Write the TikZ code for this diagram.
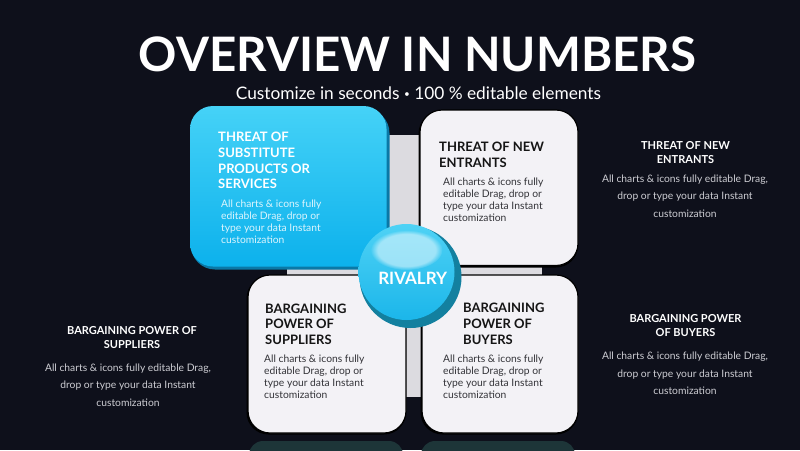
\documentclass[tikz,border=0pt]{standalone}
\usepackage{fontspec}
\setmainfont{Lato}
\usetikzlibrary{fadings}
\definecolor{bg}{HTML}{0E101B}
\definecolor{panel}{HTML}{DCDBE0}
\definecolor{cardw}{HTML}{F3F2F6}
\definecolor{blueA}{HTML}{45D2F7}
\definecolor{blueB}{HTML}{0CB1EC}
\definecolor{blueRim}{HTML}{0A78A6}
\definecolor{ballA}{HTML}{4FD2F5}
\definecolor{ballB}{HTML}{1BB6EA}
\definecolor{ballRim}{HTML}{13809F}
\definecolor{refl}{HTML}{1D3538}
\definecolor{darktxt}{HTML}{151515}
\definecolor{bodytxt}{HTML}{333338}
\definecolor{sidebody}{HTML}{CDCDD3}
\begin{document}
\begin{tikzpicture}[x=1pt,y=-1pt,
  cardbox/.style={rounded corners=22pt, fill=cardw, draw=black, line width=1.2pt},
  cardshadow/.style={rounded corners=22pt, fill=black},
  ctitle/.style={anchor=north west, inner sep=0pt, align=left, text=darktxt,
    font=\fontsize{13}{15.7}\selectfont\bfseries},
  cbody/.style={anchor=north west, inner sep=0pt, align=left, text=bodytxt,
    font=\fontsize{10.3}{12}\selectfont},
  stitle/.style={anchor=north, inner sep=0pt, align=center, text=white,
    font=\fontsize{11}{14}\selectfont\bfseries},
  sbody/.style={anchor=north, inner sep=0pt, align=center, text=sidebody,
    font=\fontsize{10.3}{17.6}\selectfont}]
\fill[bg] (0,0) rectangle (800,450);
\useasboundingbox (0,0) rectangle (800,450);

% heading
\node[anchor=base, inner sep=0pt, text=white, font=\fontsize{47.5}{56}\selectfont\bfseries] (title) at (417.5,71) {OVERVIEW IN NUMBERS};
\node[anchor=base, inner sep=0pt, text=white, font=\fontsize{17.3}{20}\selectfont] (sub) at (418.5,99) {Customize in seconds \raisebox{1.5pt}{\fontsize{10}{10}\selectfont •} 100 \% editable elements};

% grey backing panel
\fill[panel] (287,135) rectangle (542,397);

% reflections under bottom cards
\fill[refl, rounded corners=14pt] (249,441) rectangle (403,480);
\fill[refl, rounded corners=14pt] (421,441) rectangle (575,480);

% top-left blue card
\fill[blueRim, rounded corners=24pt] (191,109) rectangle (389.5,269.5);
\shade[rounded corners=23pt, top color=blueA, bottom color=blueB] (190,106) rectangle (386.5,266.5);

% top-right card
\fill[cardshadow] (418.5,111.5) rectangle (578,267.5);
\draw[cardbox] (420,110) rectangle (578,265.5);

% bottom-left card
\fill[cardshadow] (246.5,276.5) rectangle (406,434.5);
\draw[cardbox] (248,275) rectangle (406,433);

% bottom-right card
\fill[cardshadow] (420.5,276.5) rectangle (578,434.5);
\draw[cardbox] (422,275) rectangle (578,433);

% card texts
\node[ctitle, text=white] (t1) at (218,132) {THREAT OF\\SUBSTITUTE\\PRODUCTS OR\\SERVICES};
\node[cbody, text=white, opacity=0.85] (b1) at (221,200) {All charts \& icons fully\\editable Drag, drop or\\type your data Instant\\customization};

\node[ctitle] (t2) at (439,142) {THREAT OF NEW\\ENTRANTS};
\node[cbody] (b2) at (443,178) {All charts \& icons fully\\editable Drag, drop or\\type your data Instant\\customization};

\node[ctitle] (t3) at (265,303.5) {BARGAINING\\POWER OF\\SUPPLIERS};
\node[cbody] (b3) at (264,355) {All charts \& icons fully\\editable Drag, drop or\\type your data Instant\\customization};

\node[ctitle] (t4) at (463,303) {BARGAINING\\POWER OF\\BUYERS};
\node[cbody] (b4) at (443,355) {All charts \& icons fully\\editable Drag, drop or\\type your data Instant\\customization};

% side texts
\node[stitle] (s1) at (685.5,141.5) {THREAT OF NEW\\ENTRANTS};
\node[sbody] (sb1) at (685,174.5) {All charts \& icons fully editable Drag,\\drop or type your data Instant\\customization};

\node[stitle] (s2) at (132,326.5) {BARGAINING POWER OF\\SUPPLIERS};
\node[sbody] (sb2) at (128,363.5) {All charts \& icons fully editable Drag,\\drop or type your data Instant\\customization};

\node[stitle] (s3) at (685.5,314) {BARGAINING POWER\\OF BUYERS};
\node[sbody] (sb3) at (685,352) {All charts \& icons fully editable Drag,\\drop or type your data Instant\\customization};

% rivalry ball
\fill[ballRim] (410.5,277) circle (51);
\shade[top color=ballA, bottom color=ballB] (406.5,272) circle (48);
\fill[white, fill opacity=0.5, path fading=circle with fuzzy edge 20 percent] (406.5,250) ellipse (36 and 20);
\node[inner sep=0pt, text=white, font=\fontsize{17}{20}\selectfont\bfseries] (rivalry) at (412.7,278) {RIVALRY};
\end{tikzpicture}
\end{document}
